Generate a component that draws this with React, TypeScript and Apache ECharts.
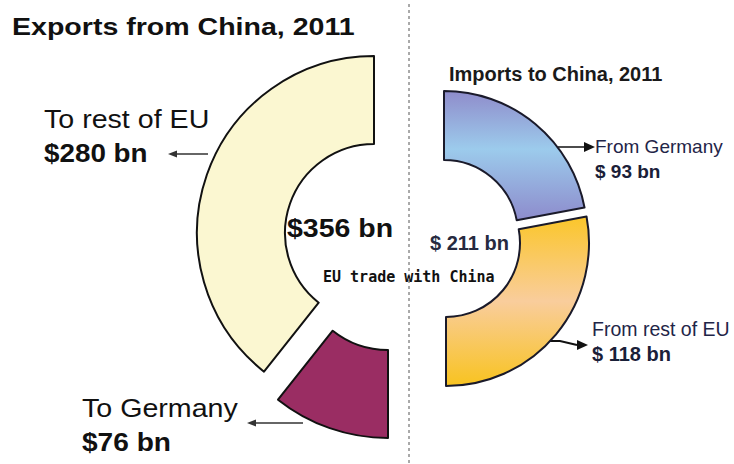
import React, { useEffect, useRef } from 'react';
import * as echarts from 'echarts';

const exportLabels = ['To rest of EU', 'To Germany'];
const exportValues = [280, 76];
const importLabels = ['From Germany', 'From rest of EU'];
const importValues = [93, 118];
const chartTitles = ['Exports from China, 2011', 'Imports to China, 2011'];
const centerNote = 'EU trade with China';

const sum = (a: number[]) => a.reduce((s, v) => s + v, 0);
const hidden = { color: 'transparent', borderWidth: 0 };

function halfPie(
  labels: string[],
  values: number[],
  visibleIndex: number,
  style: any,
  center: number[],
  radius: number[],
  clockwise: boolean
) {
  const data: any[] = values.map((v, i) => ({
    name: labels[i],
    value: v,
    itemStyle: i === visibleIndex ? style : hidden,
  }));
  data.push({ name: 'other half', value: sum(values), itemStyle: hidden });
  return {
    type: 'pie',
    center,
    radius,
    startAngle: 90,
    clockwise,
    silent: true,
    animation: false,
    label: { show: false },
    labelLine: { show: false },
    emphasis: { disabled: true },
    data,
  };
}

function txt(text: string, x: number, y: number, size: number, opts: any = {}) {
  return {
    type: 'text',
    x,
    y,
    scaleX: opts.scaleX ?? 1,
    silent: true,
    style: {
      text,
      fill: opts.color ?? '#111',
      fontSize: size,
      fontFamily: opts.family ?? '"Liberation Sans", Arial, sans-serif',
      fontWeight: opts.bold ? 'bold' : 'normal',
      align: 'left',
      verticalAlign: 'middle',
    },
  };
}

function arrow(points: number[][], head: number[][], color: string, width: number) {
  return [
    { type: 'polyline', silent: true, shape: { points }, style: { stroke: color, lineWidth: width, fill: 'none' } },
    { type: 'polygon', silent: true, shape: { points: head }, style: { fill: color } },
  ];
}

export default function App() {
  const ref = useRef<HTMLDivElement>(null);
  useEffect(() => {
    if (!ref.current) return;
    const chart = echarts.init(ref.current, null, { renderer: 'svg' });
    const yellow = { color: '#fbf7d1', borderColor: '#111', borderWidth: 2 };
    const maroon = { color: '#9a2d63', borderColor: '#111', borderWidth: 2 };
    const blue = {
      color: new echarts.graphic.LinearGradient(0, 0, 0, 1, [
        { offset: 0, color: '#8f8ccb' },
        { offset: 0.45, color: '#9ccbec' },
        { offset: 1, color: '#8d8bcc' },
      ]),
      borderColor: '#1a1a2a',
      borderWidth: 2,
    };
    const orange = {
      color: new echarts.graphic.LinearGradient(0, 0, 0, 1, [
        { offset: 0, color: '#fbc62a' },
        { offset: 0.5, color: '#f9cd9c' },
        { offset: 1, color: '#f8c320' },
      ]),
      borderColor: '#1a1a2a',
      borderWidth: 2,
    };
    const expTotal = sum(exportValues);
    const impTotal = sum(importValues);
    const navy = '#1f2548';
    chart.setOption({
      animation: false,
      backgroundColor: '#ffffff',
      series: [
        halfPie(exportLabels, exportValues, 0, yellow, [374, 233], [89, 177], false),
        halfPie(exportLabels, exportValues, 1, maroon, [388, 261], [89, 177], false),
        halfPie(importLabels, importValues, 0, blue, [444, 234], [74, 143], true),
        halfPie(importLabels, importValues, 1, orange, [446, 243], [74, 143], true),
      ],
      graphic: [
        {
          type: 'line',
          silent: true,
          shape: { x1: 409, y1: 4, x2: 409, y2: 464 },
          style: { stroke: '#555', lineWidth: 1, lineDash: [3, 3] },
        },
        txt(chartTitles[0], 12, 27, 24, { bold: true, scaleX: 1.19 }),
        txt(chartTitles[1], 449, 74, 20, { bold: true, color: '#1a1a1a' }),
        txt(exportLabels[0], 44, 119, 26, { scaleX: 1.1 }),
        txt(`$${exportValues[0]} bn`, 44, 153, 26, { bold: true, scaleX: 1.07 }),
        txt(exportLabels[1], 82, 408, 26, { scaleX: 1.1 }),
        txt(`$${exportValues[1]} bn`, 82, 442, 26, { bold: true, scaleX: 1.08 }),
        txt(`$${expTotal} bn`, 287, 229, 25, { bold: true, scaleX: 1.14 }),
        txt(`$ ${impTotal} bn`, 430, 243, 20, { bold: true, color: '#262a40' }),
        txt(centerNote, 323, 277, 15, { bold: true, family: '"DejaVu Sans Mono", monospace', color: '#111' }),
        txt(importLabels[0], 595, 146, 19, { color: navy }),
        txt(`$ ${importValues[0]} bn`, 595, 171, 19, { bold: true, color: '#1a2038' }),
        txt(importLabels[1], 592, 329, 19.5, { color: navy }),
        txt(`$ ${importValues[1]} bn`, 592, 354, 20, { bold: true, color: '#1a2038' }),
        ...arrow([[208, 154], [174, 154]], [[168, 154], [177, 150.5], [177, 157.5]], '#333', 1.5),
        ...arrow([[303, 423], [253, 423]], [[247, 423], [256, 419.5], [256, 426.5]], '#333', 1.5),
        ...arrow([[558, 147], [585, 147]], [[595, 147], [584, 142], [584, 152]], '#111', 1.5),
        ...arrow([[550, 341], [560, 341], [577, 345]], [[588, 345], [577, 340], [577, 350]], '#111', 2),
      ],
    });
    return () => chart.dispose();
  }, []);
  return (
    <div
      ref={ref}
      style={{ position: 'fixed', left: 0, top: 0, width: 734, height: 464, background: '#fff' }}
    />
  );
}
